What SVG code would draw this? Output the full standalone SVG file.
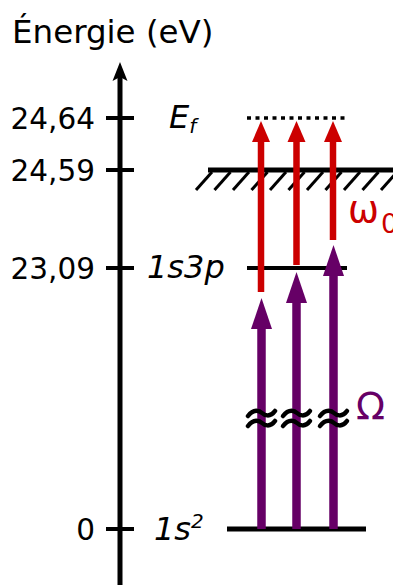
<svg xmlns="http://www.w3.org/2000/svg" width="393" height="585" viewBox="0 0 393 585">
<style>
text{font-family:"DejaVu Sans",sans-serif;fill:#000}
.tick{font-size:29.5px;text-anchor:end}
.lab{font-size:32px;font-style:italic}
.lvl{stroke:#000;stroke-width:5;fill:none}
.hatch{stroke:#000;stroke-width:3}
.red{stroke:#cc0000;stroke-width:6.5}
.redh{fill:#cc0000}
.pur{stroke:#660066;stroke-width:8.5}
.purh{fill:#660066}
.brk{stroke:#000;stroke-width:4.5;fill:none;stroke-linecap:round}
</style>
<rect width="393" height="585" fill="#fff"/>
<g id="axis">
<text x="12" y="43" style="font-size:32.5px">Énergie (eV)</text>
<line x1="120" y1="585" x2="120" y2="75" stroke="#000" stroke-width="5"/>
<polygon points="120,62 127.5,81 120,77 112.5,81" fill="#000"/>
<g stroke="#000" stroke-width="4">
<line x1="106" y1="118" x2="134" y2="118"/>
<line x1="106" y1="170" x2="134" y2="170"/>
<line x1="106" y1="268" x2="134" y2="268"/>
<line x1="106" y1="529" x2="134" y2="529"/>
</g>
<text class="tick" x="95" y="128.5">24,64</text>
<text class="tick" x="95" y="180.5">24,59</text>
<text class="tick" x="95" y="278.5">23,09</text>
<text class="tick" x="95" y="540">0</text>
</g>
<g id="level-Ef">
<line x1="247" y1="118" x2="347" y2="118" stroke="#000" stroke-width="3.5" stroke-dasharray="4,4.5"/>
<text class="lab" x="169" y="128">E<tspan style="font-size:20px" dy="5">f</tspan></text>
</g>
<g id="level-ionisation">
<line class="lvl" x1="208" y1="170" x2="393" y2="170"/>
<g class="hatch">
<line x1="196" y1="190" x2="212" y2="172"/>
<line x1="214.5" y1="190" x2="230.5" y2="172"/>
<line x1="233" y1="190" x2="249" y2="172"/>
<line x1="251.5" y1="190" x2="267.5" y2="172"/>
<line x1="270" y1="190" x2="286" y2="172"/>
<line x1="288.5" y1="190" x2="304.5" y2="172"/>
<line x1="307" y1="190" x2="323" y2="172"/>
<line x1="325.5" y1="190" x2="341.5" y2="172"/>
<line x1="344" y1="190" x2="360" y2="172"/>
<line x1="362.5" y1="190" x2="378.5" y2="172"/>
<line x1="381" y1="190" x2="397" y2="172"/>
</g>
</g>
<g id="level-1s3p">
<line x1="247" y1="268" x2="347" y2="268" stroke="#000" stroke-width="4"/>
<text class="lab" x="147" y="278">1s3p</text>
</g>
<g id="level-1s2">
<line class="lvl" x1="227" y1="529" x2="366" y2="529"/>
<text class="lab" x="154" y="540">1s<tspan style="font-size:20px" dy="-12">2</tspan></text>
</g>
<g id="connectors">
<g id="red-arrows">
<line class="red" x1="261" y1="292" x2="261" y2="138"/>
<polygon class="redh" points="261,121 270,142 252,142"/>
<line class="red" x1="296.5" y1="265" x2="296.5" y2="138"/>
<polygon class="redh" points="296.5,121 305.5,142 287.5,142"/>
<line class="red" x1="333" y1="240" x2="333" y2="138"/>
<polygon class="redh" points="333,121 342,142 324,142"/>
</g>
<g id="purple-arrows">
<line class="pur" x1="261.5" y1="529" x2="261.5" y2="324"/>
<polygon class="purh" points="261.5,298 272,329 251,329"/>
<line class="pur" x1="296.5" y1="529" x2="296.5" y2="298"/>
<polygon class="purh" points="296.5,272 307,303 286,303"/>
<line class="pur" x1="333.5" y1="529" x2="333.5" y2="271"/>
<polygon class="purh" points="333.5,245 344,276 323,276"/>
</g>
<g id="breaks" class="brk">
<path d="M248,416 C254,408 260,411 262,413 S270,418 275,411"/>
<path d="M248,426 C254,418 260,421 262,423 S270,428 275,421"/>
<path d="M283,416 C289,408 295,411 297,413 S305,418 310,411"/>
<path d="M283,426 C289,418 295,421 297,423 S305,428 310,421"/>
<path d="M320,416 C326,408 332,411 334,413 S342,418 347,411"/>
<path d="M320,426 C326,418 332,421 334,423 S342,428 347,421"/>
</g>
</g>
<g id="label-omega0">
<text x="348" y="222" style="font-size:37px;fill:#cc0000">ω<tspan style="font-size:27px" dx="2" dy="11">0</tspan></text>
</g>
<g id="label-Omega">
<text x="356" y="419" style="font-size:38px;fill:#660066">Ω</text>
</g>
</svg>
